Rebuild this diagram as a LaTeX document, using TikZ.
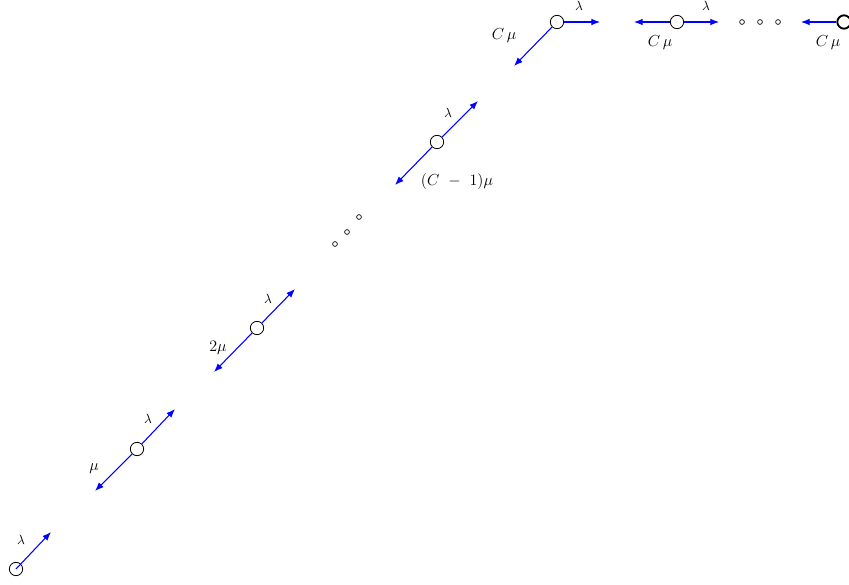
\documentclass[tikz,border=0pt]{standalone}
\usetikzlibrary{arrows.meta}
\begin{document}
\begin{tikzpicture}[x=0.75pt,y=-0.75pt,
  state/.style={circle,draw,line width=0.6pt,minimum size=10pt,inner sep=0pt},
  endstate/.style={circle,draw,line width=1.4pt,minimum size=10pt,inner sep=0pt},
  dotn/.style={circle,draw,line width=0.5pt,minimum size=3.6pt,inner sep=0pt},
  rate/.style={blue,line width=0.8pt,-{Latex[length=6.5pt,width=5pt]}},
  lab/.style={inner sep=0pt,font=\normalsize},
  mulab/.style={inner sep=0pt,font=\large}]
\useasboundingbox (0,0) rectangle (849,585);
\clip (0,0) rectangle (849,585);
% states
\node[state] (s0) at (16,569) {};
\node[state] (s1) at (137,449) {};
\node[state] (s2) at (257,328) {};
\node[state] (s3) at (437,142) {};
\node[state] (s4) at (557,22) {};
\node[state] (s5) at (677,22) {};
\node[endstate] (s6) at (844,22) {};
% dots
\node[dotn] (d1) at (335,244) {};
\node[dotn] (d2) at (347,232) {};
\node[dotn] (d3) at (359,217) {};
\node[dotn] (h1) at (742,22) {};
\node[dotn] (h2) at (760,22) {};
\node[dotn] (h3) at (778,22) {};
% arrow ends
\coordinate (a0u) at (51,532);
\coordinate (a1u) at (175,409);
\coordinate (a1d) at (95,491);
\coordinate (a2u) at (295,289);
\coordinate (a2d) at (214,372);
\coordinate (a3u) at (478,101);
\coordinate (a3d) at (395,185);
\coordinate (a4r) at (600,22);
\coordinate (a4d) at (514,66);
\coordinate (a5l) at (634,22);
\coordinate (a5r) at (719,22);
\coordinate (a6l) at (801,22);
% arrows
\draw[rate] (s0.center) -- (a0u);
\draw[rate] (s1) -- (a1u);
\draw[rate] (s1) -- (a1d);
\draw[rate] (s2) -- (a2u);
\draw[rate] (s2) -- (a2d);
\draw[rate] (s3) -- (a3u);
\draw[rate] (s3) -- (a3d);
\draw[rate] (s4) -- (a4r);
\draw[rate] (s4) -- (a4d);
\draw[rate] (s5) -- (a5l);
\draw[rate] (s5) -- (a5r);
\draw[rate] (s6) -- (a6l);
% labels
\node[lab] (l0) at (21,540) {$\lambda$};
\node[lab] (l1u) at (148,419) {$\lambda$};
\node[mulab] (l1d) at (94,469) {$\mu$};
\node[lab] (l2u) at (268,299) {$\lambda$};
\node[mulab] (l2d) at (218,348) {$2\mu$};
\node[lab] (l3u) at (448,113) {$\lambda$};
\node[mulab] (l3d) at (457,181) {$(C\hspace{4pt}-\hspace{4pt}1)\mu$};
\node[mulab] (l4d) at (504,36) {$C\,\mu$};
\node[lab] (l4u) at (579,6) {$\lambda$};
\node[mulab] (l5d) at (660,43) {$C\,\mu$};
\node[lab] (l5u) at (706,6) {$\lambda$};
\node[mulab] (l6d) at (828,43) {$C\,\mu$};
\end{tikzpicture}
\end{document}
